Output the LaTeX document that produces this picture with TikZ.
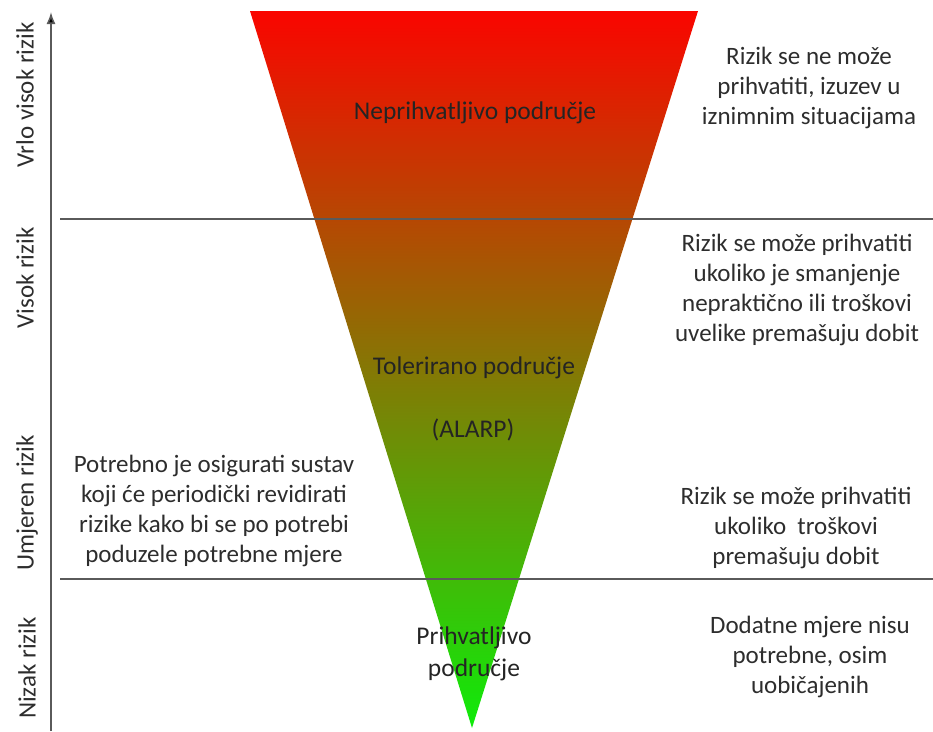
\documentclass[tikz,border=0pt]{standalone}
\usepackage{fontspec}
\usetikzlibrary{arrows.meta}
\setmainfont{Carlito}
\definecolor{textgray}{RGB}{45,45,45}
\definecolor{linegray}{RGB}{90,90,90}
\definecolor{topred}{RGB}{250,5,0}
\definecolor{midolive}{RGB}{128,108,12}
\definecolor{botgreen}{RGB}{15,235,10}
\begin{document}
\begin{tikzpicture}[x=1pt,y=-1pt,
  txt/.style={text=textgray, font=\fontsize{25}{30}\selectfont, align=center, inner sep=0pt},
  inside/.style={text=textgray!80!black, font=\fontsize{25.5}{32}\selectfont, align=center, inner sep=0pt},
  sidelabel/.style={text=textgray, font=\fontsize{25}{26}\selectfont, rotate=90, inner sep=0pt},
  divider/.style={draw=linegray, line width=1.3pt},
  axisline/.style={draw=linegray, line width=1.6pt}]
\useasboundingbox (0,0) rectangle (933,731);
% triangle
\coordinate (tl) at (250,11);
\coordinate (tr) at (698,11);
\coordinate (apex) at (472,728);
\shade[top color=topred, middle color=midolive, bottom color=botgreen]
  (tl) -- (tr) -- (apex) -- cycle;
% dividers
\coordinate (d1l) at (60,219);
\coordinate (d1r) at (933,219);
\coordinate (d2l) at (60,579);
\coordinate (d2r) at (933,579);
\draw[divider] (d1l) -- (d1r);
\draw[divider] (d2l) -- (d2r);
% axis
\coordinate (ax0) at (51,731);
\coordinate (ax1) at (51,12);
\draw[axisline, -{Latex[length=12pt,width=9pt,fill=black]}] (ax0) -- (ax1);
% side labels
\node[sidelabel] (l1) at (25,95) {Vrlo visok rizik};
\node[sidelabel] (l2) at (25,278) {Visok rizik};
\node[sidelabel] (l3) at (27,503) {Umjeren rizik};
\node[sidelabel] (l4) at (27,668) {Nizak rizik};
% triangle texts
\node[inside] (t1) at (475,113) {Neprihvatljivo područje};
\node[inside] (t2) at (474,368) {Tolerirano područje};
\node[inside] (t3) at (473,430) {(ALARP)};
\node[inside] (t4) at (474,654) {Prihvatljivo\\područje};
% right texts
\node[txt] (r1) at (809,88) {Rizik se ne može\\prihvatiti, izuzev u\\iznimnim situacijama};
\node[txt] (r2) at (797,290) {Rizik se može prihvatiti\\ukoliko je smanjenje\\nepraktično ili troškovi\\uvelike premašuju dobit};
\node[txt] (r3) at (796,528) {Rizik se može prihvatiti\\ukoliko\ \ troškovi\\premašuju dobit};
\node[txt] (r4) at (810,657) {Dodatne mjere nisu\\potrebne, osim\\uobičajenih};
% left text
\node[txt] (lt) at (214,511) {Potrebno je osigurati sustav\\koji će periodički revidirati\\rizike kako bi se po potrebi\\poduzele potrebne mjere};
\end{tikzpicture}
\end{document}
